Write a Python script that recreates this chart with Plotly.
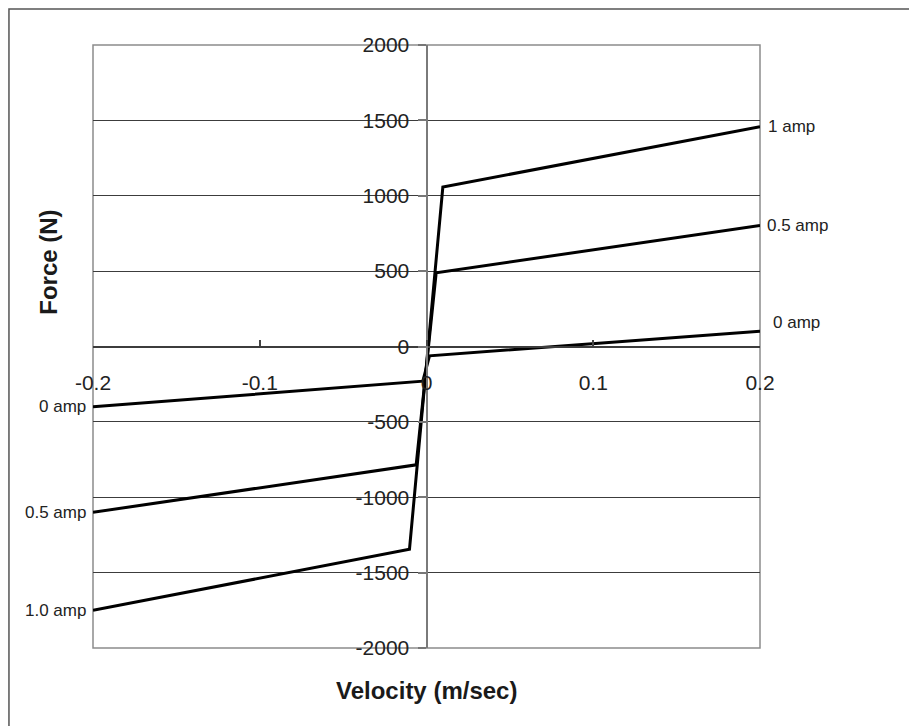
import plotly.graph_objects as go

# Damper force vs. velocity for three coil currents
velocity_1amp = [-0.2, -0.0102, 0.0098, 0.2]
force_1amp = [-1750, -1345, 1058, 1458]

velocity_05amp = [-0.2, -0.0062, 0.0058, 0.2]
force_05amp = [-1100, -785, 489, 803]

velocity_0amp = [-0.2, -0.0022, 0.0018, 0.2]
force_0amp = [-400, -230, -62, 101]

x_ticks = [-0.2, -0.1, 0, 0.1, 0.2]
x_tick_text = ["-0.2", "-0.1", "0", "0.1", "0.2"]
y_ticks = [-2000, -1500, -1000, -500, 0, 500, 1000, 1500, 2000]
y_tick_text = ["-2000", "-1500", "-1000", "-500", "0", "500", "1000", "1500", "2000"]

FONT = "Liberation Sans, Arial, sans-serif"
LINE = dict(color="black", width=3)

fig = go.Figure()
for vx, fy in [(velocity_1amp, force_1amp),
               (velocity_05amp, force_05amp),
               (velocity_0amp, force_0amp)]:
    fig.add_trace(go.Scatter(x=vx, y=fy, mode="lines", line=LINE,
                             showlegend=False, hoverinfo="skip"))

# curve labels at both ends
right_labels = [("1 amp", force_1amp[-1], 6), ("0.5 amp", force_05amp[-1], 5),
                ("0 amp", force_0amp[-1] + 60, 11)]
left_labels = [("0 amp", force_0amp[0]), ("0.5 amp", force_05amp[0]),
               ("1.0 amp", force_1amp[0])]
annotations = []
for text, yv, dx in right_labels:
    annotations.append(dict(x=0.2, y=yv, text=text, showarrow=False,
                            xanchor="left", yanchor="middle", xshift=dx,
                            font=dict(family=FONT, size=17, color="#222")))
for text, yv in left_labels:
    annotations.append(dict(x=-0.2, y=yv, text=text, showarrow=False,
                            xanchor="right", yanchor="middle", xshift=-5,
                            font=dict(family=FONT, size=17, color="#222")))

# axis titles
annotations.append(dict(x=0.5, y=-0.07, xref="paper", yref="paper",
                        text="<b>Velocity (m/sec)</b>", showarrow=False,
                        xanchor="center", yanchor="middle",
                        font=dict(family=FONT, size=24, color="#1a1a1a")))
annotations.append(dict(x=-0.068, y=0.64, xref="paper", yref="paper",
                        text="<b>Force (N)</b>", showarrow=False, textangle=-90,
                        xanchor="center", yanchor="middle",
                        font=dict(family=FONT, size=24, color="#1a1a1a")))

shapes = [
    # plot area frame
    dict(type="rect", xref="paper", yref="paper", x0=0, y0=0, x1=1, y1=1,
         line=dict(color="#8c8c8c", width=1.5), layer="below"),
    # outer chart border
    dict(type="rect", xref="paper", yref="paper", x0=-0.126, y0=-1, x1=3,
         y1=1.0597, line=dict(color="#555", width=1.5), layer="below"),
]

fig.update_layout(
    width=909, height=726,
    margin=dict(l=93, r=149, t=45, b=78),
    paper_bgcolor="white", plot_bgcolor="white",
    font=dict(family=FONT, size=21, color="#222"),
    annotations=annotations, shapes=shapes,
    xaxis=dict(range=[-0.2, 0.2], anchor="free", position=0.5,
               tickvals=x_ticks, ticktext=x_tick_text,
               ticks="inside", ticklen=6, tickcolor="#444", tickwidth=1.5,
               showline=True, linecolor="#3c3c3c", linewidth=1.5,
               showgrid=False, zeroline=False, ticklabelstandoff=18,
               tickfont=dict(family=FONT, size=21, color="#222")),
    yaxis=dict(range=[-2000, 2000], anchor="free", position=0.5,
               tickvals=y_ticks, ticktext=y_tick_text,
               ticks="outside", ticklen=8,
               tickcolor="#777", tickwidth=1.5,
               showline=True, linecolor="#7a7a7a", linewidth=2,
               showgrid=True, gridcolor="#3c3c3c", gridwidth=1.2,
               zeroline=False, ticklabelstandoff=4,
               tickfont=dict(family=FONT, size=21, color="#222")),
)

fig.write_html("out.html")
